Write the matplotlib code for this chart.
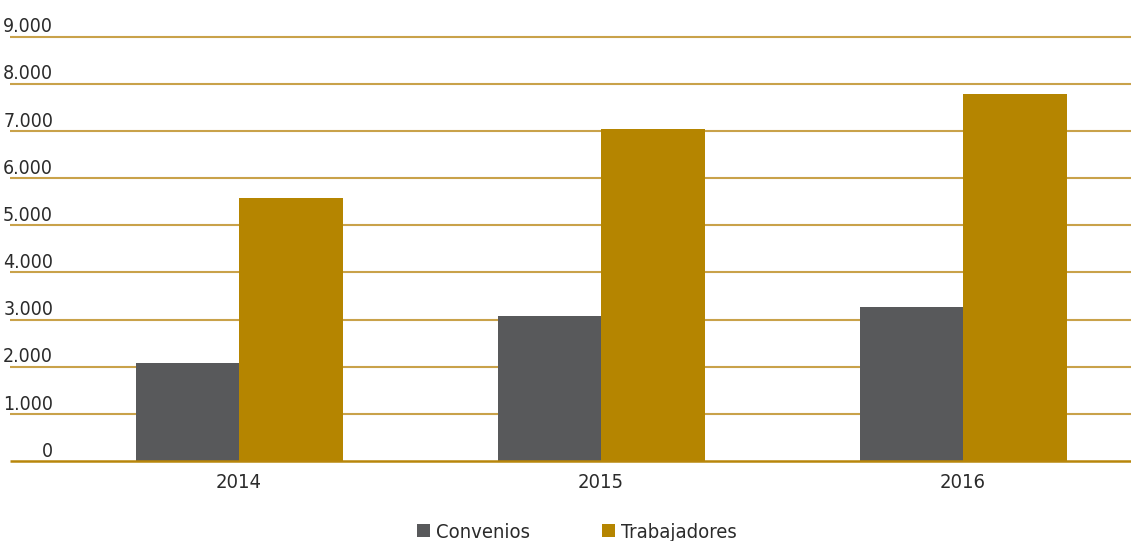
import numpy as np
import matplotlib.pyplot as plt

anios = ["2014", "2015", "2016"]
convenios = [2075, 3070, 3260]
trabajadores = [5570, 7030, 7790]
ticks_y = [0, 1000, 2000, 3000, 4000, 5000, 6000, 7000, 8000, 9000]
etiquetas_y = ["0", "1.000", "2.000", "3.000", "4.000", "5.000", "6.000", "7.000", "8.000", "9.000"]

plt.rcParams["font.family"] = ["DejaVu Sans"]
plt.rcParams["font.stretch"] = "condensed"

gris = "#58595b"
oro = "#b58500"
linea = "#c9a24a"
texto = "#2b2b2b"

fig = plt.figure(figsize=(11.31, 5.41), dpi=100)
ax = fig.add_axes([10 / 1131, 80 / 541, 1121 / 1131, 424.5 / 541])

x = np.arange(len(anios))
ancho = 0.286
ax.bar(x - ancho / 2, convenios, ancho, color=gris, label="Convenios", zorder=3)
ax.bar(x + ancho / 2, trabajadores, ancho, color=oro, label="Trabajadores", zorder=3)

for v in ticks_y[1:]:
    ax.axhline(v, color=linea, lw=1.5, zorder=1, clip_on=False, solid_capstyle="butt")
ax.axhline(0, color="#b8860b", lw=1.8, zorder=4, clip_on=False, solid_capstyle="butt")

ax.set_xlim(-0.633, 2.464)
ax.set_ylim(0, 9000)
ax.set_yticks([])
ax.set_xticks(x)
ax.set_xticklabels(anios, fontsize=14.5, color=texto)
ax.tick_params(axis="x", length=0, pad=9)
for s in ax.spines.values():
    s.set_visible(False)

for v, t in zip(ticks_y, etiquetas_y):
    ax.annotate(t, xy=(0.0385, v), xycoords=ax.get_yaxis_transform(),
                xytext=(0, 3), textcoords="offset points",
                ha="right", va="baseline", fontsize=14, color=texto)

fig.legend(loc="lower center", bbox_to_anchor=(0.51, -0.035), ncol=2, frameon=False,
           fontsize=14.5, handlelength=0.65, handleheight=0.65, handletextpad=0.3,
           columnspacing=3.6, labelcolor=texto)

fig.savefig("out.png", dpi=100)
